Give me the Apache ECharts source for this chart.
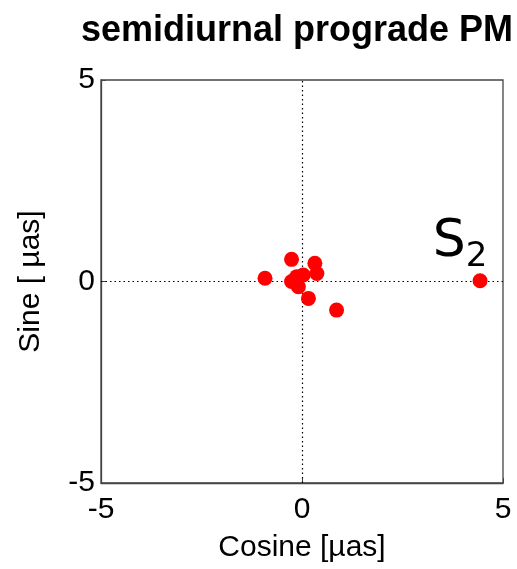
<!DOCTYPE html>
<html><head><meta charset="utf-8">
<script src="https://cdn.jsdelivr.net/npm/echarts@6/dist/echarts.min.js"></script>
<style>html,body{margin:0;padding:0;background:#fff}#c{width:517px;height:569px}</style>
</head><body><div id="c"></div>
<script>
const cosineVals = [-0.26, -0.92, 0.32, 0.37, -0.13, -0.26, 0.03, -0.09, 0.16, 0.86, 4.43];
const sineVals   = [0.55, 0.08, 0.45, 0.20, 0.12, 0.00, 0.16, -0.13, -0.42, -0.71, 0.02];
const pointNames = ['', '', '', '', '', '', '', '', '', '', 'S2'];
const tickVals = [-5, 0, 5];

const data = cosineVals.map((x, i) => {
  const d = { value: [x, sineVals[i]] };
  if (pointNames[i] === 'S2') {
    d.label = {
      show: true,
      position: 'top',
      distance: 0,
      offset: [-20, -5],
      formatter: '{s|S}{sub|2}',
      rich: {
        s: { fontFamily: 'DejaVu Sans', fontSize: 52, color: '#000', verticalAlign: 'bottom', lineHeight: 54 },
        sub: { fontFamily: 'DejaVu Sans', fontSize: 34, color: '#000', verticalAlign: 'bottom', height: 22, lineHeight: 22 }
      }
    };
  }
  return d;
});

const chart = echarts.init(document.getElementById('c'), null, { renderer: 'canvas' });
const axisCommon = {
  min: -5, max: 5, interval: 5,
  axisLine: { show: true, onZero: false, lineStyle: { color: '#444', width: 1.3 } },
  axisTick: { show: true, inside: true, length: 5, lineStyle: { color: '#444' } },
  splitLine: { show: false },
  axisLabel: { color: '#000', fontFamily: 'Liberation Sans', fontSize: 30,
    formatter: v => tickVals.includes(v) ? String(v) : '' },
  nameTextStyle: { color: '#000', fontFamily: 'Liberation Sans', fontSize: 30 },
  nameLocation: 'middle'
};
chart.setOption({
  animation: false,
  title: { text: 'semidiurnal prograde PM', left: 292, textAlign: 'center', top: 8,
    textStyle: { fontFamily: 'Liberation Sans', fontWeight: 'bold', fontSize: 36, color: '#000' } },
  grid: { left: 101, right: 14, top: 80, bottom: 86, containLabel: false, outerBoundsMode: 'none',
    show: true, borderColor: '#444', borderWidth: 1.3, backgroundColor: 'transparent' },
  xAxis: Object.assign({}, axisCommon, { type: 'value', name: 'Cosine [\u00b5as]', nameGap: 50,
    axisLabel: Object.assign({}, axisCommon.axisLabel, { margin: 12 }) }),
  yAxis: Object.assign({}, axisCommon, { type: 'value', name: 'Sine [ \u00b5as]', nameGap: 55,
    axisLabel: Object.assign({}, axisCommon.axisLabel, { margin: 6 }) }),
  series: [{
    type: 'scatter',
    symbol: 'circle',
    symbolSize: 15,
    itemStyle: { color: '#ff0000', opacity: 1 },
    data: data,
    z: 3,
    markLine: {
      silent: true, symbol: 'none', animation: false,
      label: { show: false },
      lineStyle: { type: [1.5, 3], color: '#000', width: 1.2 },
      data: [{ xAxis: 0 }, { yAxis: 0 }],
      z: 1
    }
  }]
});
</script></body></html>
